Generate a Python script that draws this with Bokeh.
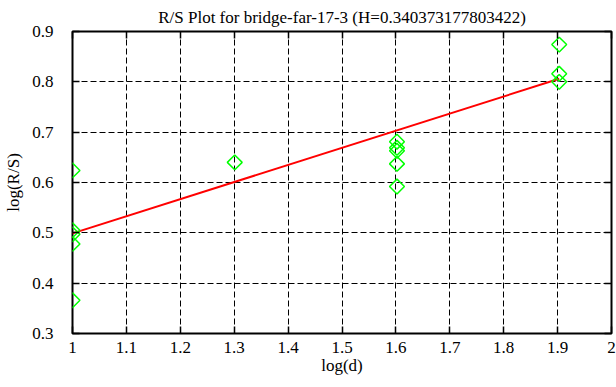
import math
from bokeh.plotting import figure
from bokeh.models import LinearAxis, FixedTicker, Range1d, CustomJSTickFormatter
from bokeh.embed import file_html
from bokeh.resources import INLINE

# Data
pts_x = [1.0, 1.0, 1.0, 1.0, 1.0,
         1.301,
         1.602, 1.602, 1.602, 1.602, 1.602,
         1.903, 1.903, 1.903]
pts_y = [0.624, 0.505, 0.497, 0.478, 0.366,
         0.640,
         0.681, 0.669, 0.663, 0.637, 0.592,
         0.874, 0.816, 0.800]

fit_x = [1.0, 1.903]
fit_y = [0.499, 0.806]

x_ticks = [1.0, 1.1, 1.2, 1.3, 1.4, 1.5, 1.6, 1.7, 1.8, 1.9, 2.0]
x_tick_labels = ["1", "1.1", "1.2", "1.3", "1.4", "1.5", "1.6", "1.7", "1.8", "1.9", "2"]
y_ticks = [0.3, 0.4, 0.5, 0.6, 0.7, 0.8, 0.9]
y_tick_labels = ["0.3", "0.4", "0.5", "0.6", "0.7", "0.8", "0.9"]

title_text = "R/S Plot for bridge-far-17-3 (H=0.340373177803422)"
FONT = "Liberation Serif"
FS = "17px"

p = figure(width=616, height=387, output_backend="svg", toolbar_location=None,
           x_range=Range1d(1, 2), y_range=Range1d(0.3, 0.9),
           min_border_left=72, min_border_right=5, min_border_top=31, min_border_bottom=54)

p.title.text = title_text
p.title.text_font = FONT
p.title.text_font_size = FS
p.title.text_font_style = "normal"
p.title.text_color = "black"
p.title.align = "center"
p.title.standoff = 10
p.title.offset = 0

p.outline_line_color = "black"
p.outline_line_width = 2
p.outline_line_alpha = 1
p.background_fill_color = "white"
p.border_fill_color = "white"

LABEL_JS = """
let best = 0;
for (let i = 0; i < tvals.length; i++) {
    if (Math.abs(tvals[i] - tick) < Math.abs(tvals[best] - tick)) best = i;
}
return tlabels[best];
"""

def style_axis(ax, ticks, labels, show_labels=True):
    ax.ticker = FixedTicker(ticks=ticks)
    ax.axis_line_color = None
    ax.major_tick_in = 7
    ax.major_tick_out = 0
    ax.major_tick_line_color = "black"
    ax.major_tick_line_width = 1.5
    ax.minor_tick_line_color = None
    ax.major_label_text_font = FONT
    ax.major_label_text_font_style = "normal"
    ax.major_label_text_color = "black"
    ax.axis_label_text_font = FONT
    ax.axis_label_text_font_size = FS
    ax.axis_label_text_font_style = "normal"
    ax.axis_label_text_color = "black"
    if show_labels:
        ax.major_label_text_font_size = FS
        ax.formatter = CustomJSTickFormatter(args=dict(tvals=ticks, tlabels=labels), code=LABEL_JS)
    else:
        ax.major_label_text_font_size = "1px"
        ax.formatter = CustomJSTickFormatter(code="return '';")
        ax.major_label_standoff = 0

xa = p.xaxis[0]
ya = p.yaxis[0]
style_axis(xa, x_ticks, x_tick_labels)
style_axis(ya, y_ticks, y_tick_labels)
xa.axis_label = "log(d)"
ya.axis_label = "log(R/S)"
xa.major_label_standoff = 8
ya.major_label_standoff = 19
xa.axis_label_standoff = 0
ya.axis_label_standoff = 6

ra = LinearAxis()
style_axis(ra, y_ticks, y_tick_labels, show_labels=False)
p.add_layout(ra, "right")
ta = LinearAxis()
style_axis(ta, x_ticks, x_tick_labels, show_labels=False)
p.add_layout(ta, "above")

p.xgrid.ticker = FixedTicker(ticks=x_ticks)
p.ygrid.ticker = FixedTicker(ticks=y_ticks)
for g in (p.xgrid, p.ygrid):
    g.grid_line_color = "black"
    g.grid_line_dash = "6 3"
    g.grid_line_width = 1
    g.grid_line_alpha = 1

p.line(fit_x, fit_y, line_color="#ff0000", line_width=2)
p.scatter(pts_x, pts_y, marker="square", size=10.5, angle=math.pi / 4,
          fill_color=None, line_color="#00ff00", line_width=1.5)

open("out.html", "w").write(file_html(p, INLINE))
